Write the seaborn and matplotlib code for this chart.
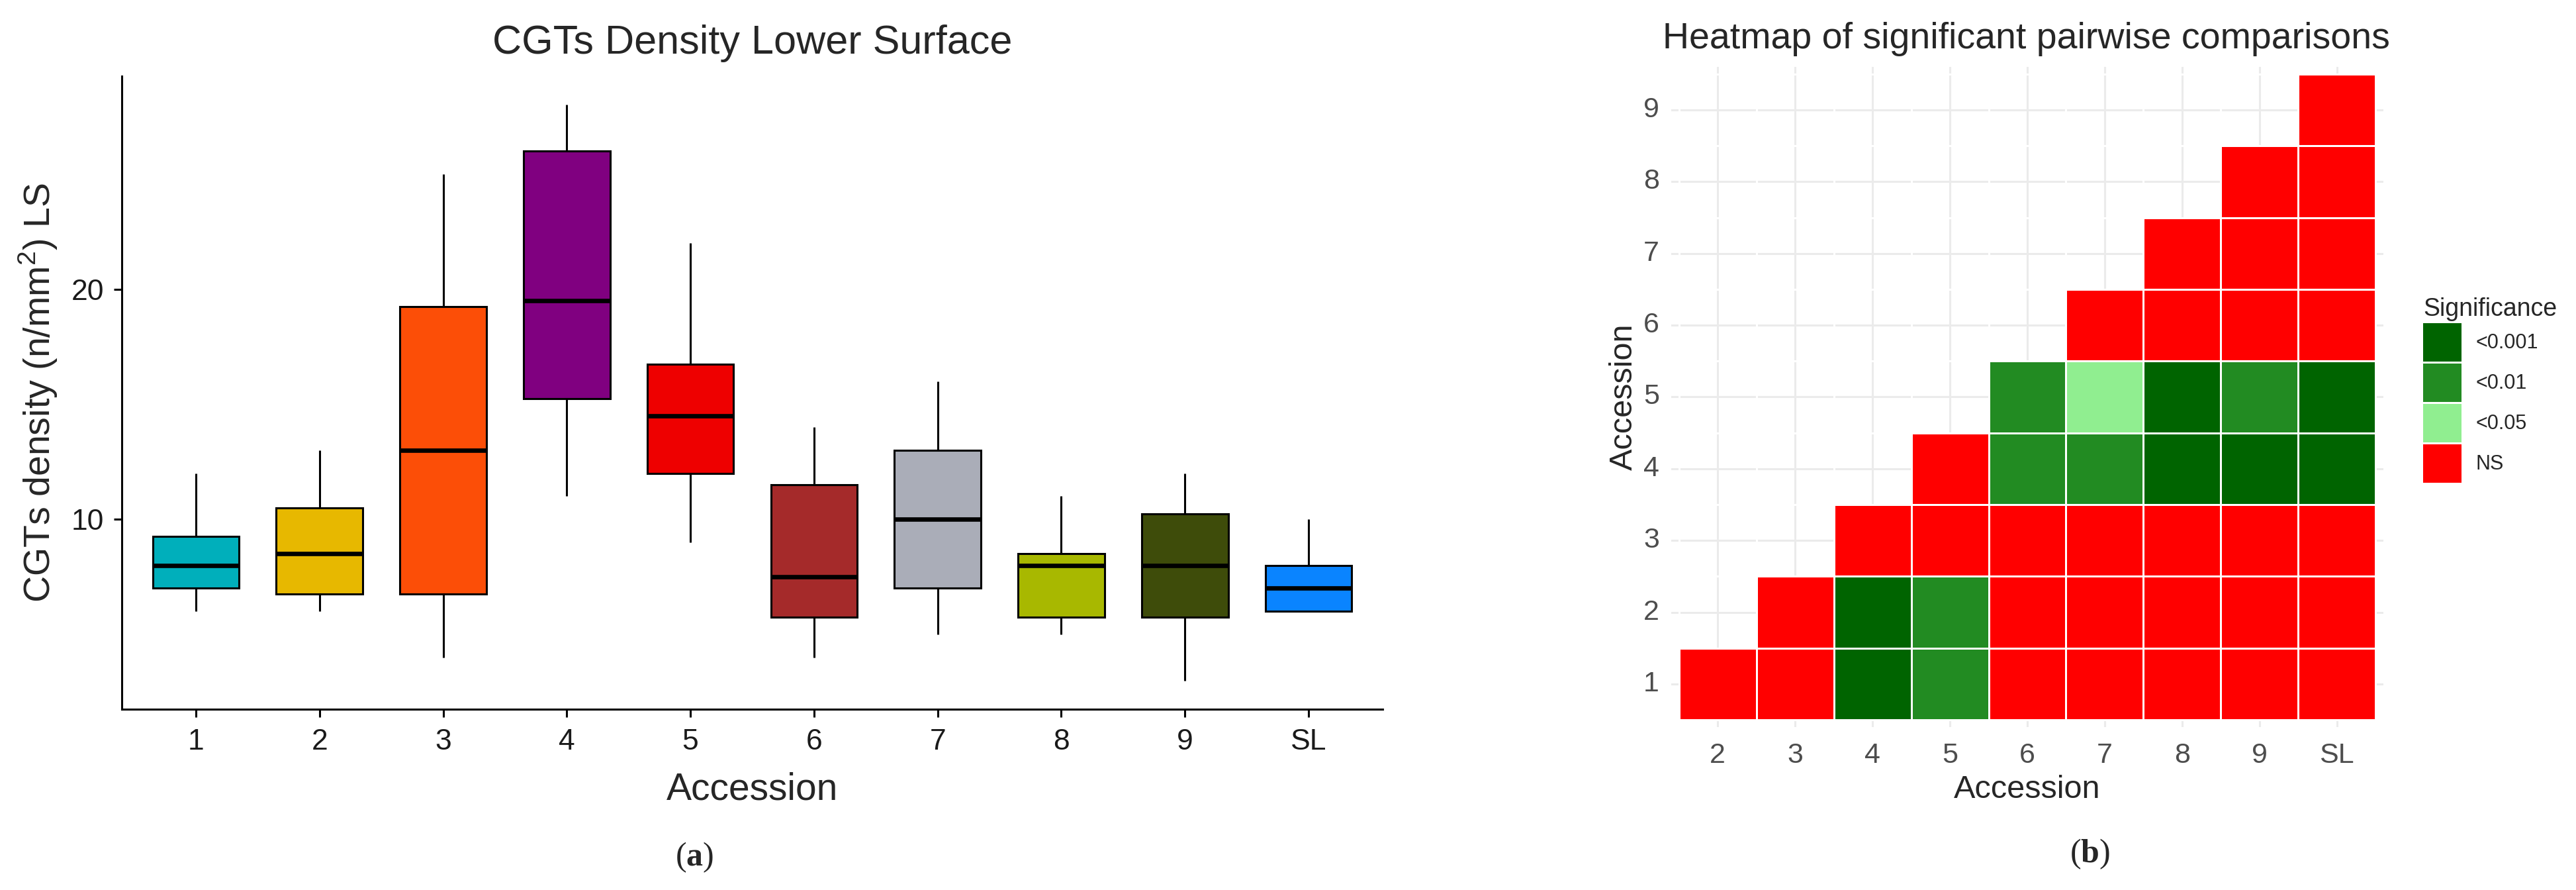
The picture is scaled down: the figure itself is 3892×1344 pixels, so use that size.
import numpy as np
import pandas as pd
import matplotlib
matplotlib.use("Agg")
import matplotlib.pyplot as plt
from matplotlib.colors import ListedColormap
from matplotlib.patches import Patch
import seaborn as sns

# ---- data (a): five-number summaries ----
accessions = ["1", "2", "3", "4", "5", "6", "7", "8", "9", "SL"]
cgt_min = [6, 6, 4, 11, 9, 4, 5, 5, 3, 6]
cgt_q1 = [7, 6.75, 6.75, 15.25, 12, 5.75, 7, 5.75, 5.75, 6]
cgt_median = [8, 8.5, 13, 19.5, 14.5, 7.5, 10, 8, 8, 7]
cgt_q3 = [9.25, 10.5, 19.25, 26, 16.75, 11.5, 13, 8.5, 10.25, 8]
cgt_max = [12, 13, 25, 28, 22, 14, 16, 11, 12, 10]
box_colors = ["#00AFBB", "#E7B800", "#FC4E07", "#800080", "#EE0000",
              "#A52A2A", "#AAADB8", "#A8B800", "#3E4C0A", "#0A84FF"]

# ---- data (b): significance of pairwise comparisons ----
sig_cols = ["2", "3", "4", "5", "6", "7", "8", "9", "SL"]
sig_rows = ["1", "2", "3", "4", "5", "6", "7", "8", "9"]
sig_levels = ["<0.001", "<0.01", "<0.05", "NS"]
sig_colors = ["#006400", "#228B22", "#90EE90", "#FF0000"]
row_1 = ["NS", "NS", "<0.001", "<0.01", "NS", "NS", "NS", "NS", "NS"]
row_2 = [None, "NS", "<0.001", "<0.01", "NS", "NS", "NS", "NS", "NS"]
row_3 = [None, None, "NS", "NS", "NS", "NS", "NS", "NS", "NS"]
row_4 = [None, None, None, "NS", "<0.01", "<0.01", "<0.001", "<0.001", "<0.001"]
row_5 = [None, None, None, None, "<0.01", "<0.05", "<0.001", "<0.01", "<0.001"]
row_6 = [None, None, None, None, None, "NS", "NS", "NS", "NS"]
row_7 = [None, None, None, None, None, None, "NS", "NS", "NS"]
row_8 = [None, None, None, None, None, None, None, "NS", "NS"]
row_9 = [None, None, None, None, None, None, None, None, "NS"]

sns.set_style("white")
plt.rcParams['font.family'] = ['Liberation Sans', 'DejaVu Sans']
plt.rcParams['mathtext.fontset'] = 'custom'
plt.rcParams['mathtext.rm'] = 'Liberation Sans'
plt.rcParams['mathtext.bf'] = 'Liberation Serif:bold'

# long table: the five values of each accession give exactly these quartiles
box_df = pd.DataFrame({
    "Accession": np.repeat(accessions, 5),
    "CGT": np.column_stack([cgt_min, cgt_q1, cgt_median, cgt_q3, cgt_max]).ravel(),
})

# heatmap matrix, top row = 9
level_code = {lv: i for i, lv in enumerate(sig_levels)}
rows = [row_1, row_2, row_3, row_4, row_5, row_6, row_7, row_8, row_9]
mat = pd.DataFrame([[np.nan if v is None else level_code[v] for v in r] for r in rows],
                   index=sig_rows, columns=sig_cols).iloc[::-1]

W, H = 3892, 1344
fig = plt.figure(figsize=(W / 100, H / 100), dpi=100)

# ---------------- (a) box plot ----------------
ax1 = fig.add_axes([184 / W, (H - 1071) / H, 1905 / W, 956 / H])
sns.boxplot(data=box_df, x="Accession", y="CGT", hue="Accession", order=accessions,
            hue_order=accessions, palette=box_colors, saturation=1, legend=False,
            width=0.7, whis=(0, 100), showcaps=False, showfliers=False,
            linecolor="black", linewidth=2.2,
            medianprops=dict(linewidth=4.8, color="black"), ax=ax1)
ax1.set_xlim(-0.6, 9.6)
ax1.set_ylim(1.75, 29.25)
ax1.set_yticks([10, 20])
sns.despine(ax=ax1)
for s in ["left", "bottom"]:
    ax1.spines[s].set_linewidth(2.2)
    ax1.spines[s].set_color("black")
ax1.tick_params(axis="both", length=8.6, width=2.2, color="black",
                labelsize=32, labelcolor="#1a1a1a", bottom=True, left=True)
ax1.tick_params(axis="x", pad=12)
ax1.tick_params(axis="y", pad=11)
ax1.set_title("CGTs Density Lower Surface", fontsize=44, pad=24.5)
ax1.set_xlabel("Accession", fontsize=41)
ax1.set_ylabel("CGTs density (n/mm$^2$) LS", fontsize=40)
ax1.xaxis.set_label_coords(0.5, -0.099)
ax1.yaxis.set_label_coords(-0.0493, 0.5)

# ---------------- (b) heatmap ----------------
ax2 = fig.add_axes([2525 / W, (H - 1098) / H, 1076 / W, 997 / H])
sns.heatmap(mat, cmap=ListedColormap(sig_colors), vmin=-0.5, vmax=3.5, cbar=False,
            linewidths=0.8, linecolor="white", ax=ax2)
ax2.set_xlim(-0.1, 9.1)
ax2.set_ylim(9.1, -0.1)
ax2.set_axisbelow(True)
ax2.grid(True, color="#EBEBEB", linewidth=2.2)
ax2.tick_params(axis="both", length=0, labelsize=31, labelcolor="#4D4D4D")
ax2.tick_params(axis="x", pad=16.5)
ax2.tick_params(axis="y", pad=13)
plt.setp(ax2.get_yticklabels(), rotation=0)
plt.setp(ax2.get_xticklabels(), rotation=0)
ax2.set_xlabel("Accession", fontsize=35)
ax2.set_ylabel("Accession", fontsize=35)
ax2.xaxis.set_label_coords(0.5, -0.072)
ax2.yaxis.set_label_coords(-0.0455, 0.5)
fig.text(2512 / W, (H - 73) / H, "Heatmap of significant pairwise comparisons",
         fontsize=40, ha="left", va="baseline")

# legend keys about 58 px square
handles = [Patch(facecolor=c, edgecolor="none") for c in sig_colors]
fig.legend(handles, sig_levels, title="Significance", loc="upper left",
           bbox_to_anchor=(3661 / W, (H - 449) / H), frameon=False, fontsize=22,
           title_fontsize=27, handlelength=1.9, handleheight=2.54, labelspacing=0.1,
           handletextpad=0.7, borderpad=0, borderaxespad=0, alignment="left")

# panel letters
fig.text(1049 / W, (H - 1295) / H, r"($\mathbf{a}$)", fontsize=36,
         family="Liberation Serif", ha="center", va="center")
fig.text(3157 / W, (H - 1290) / H, r"($\mathbf{b}$)", fontsize=36,
         family="Liberation Serif", ha="center", va="center")

fig.savefig("out.png", dpi=100, facecolor="white")
